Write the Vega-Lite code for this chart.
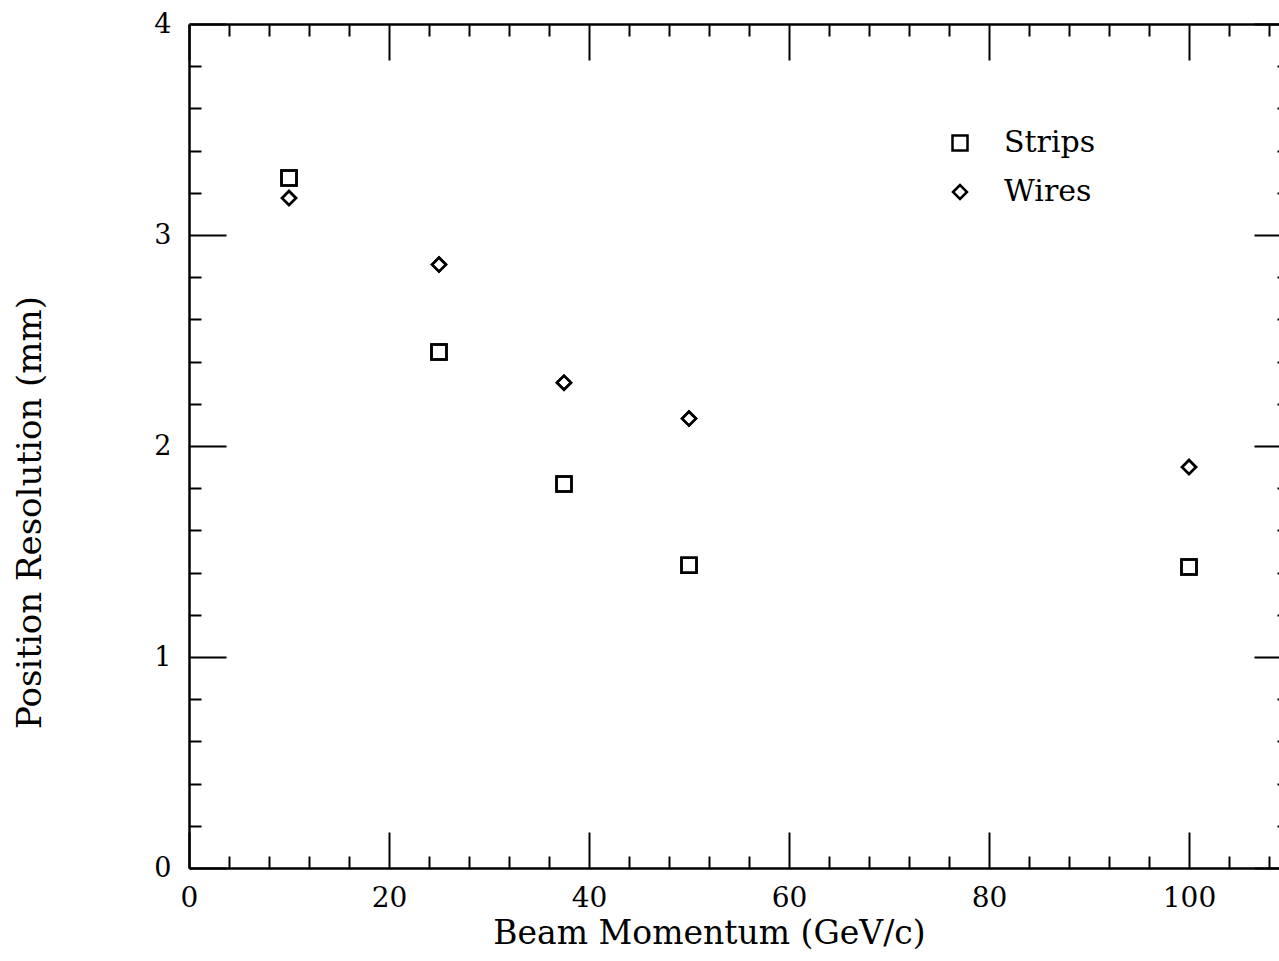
{
  "$schema": "https://vega.github.io/schema/vega-lite/v6.json",
  "width": 1090,
  "height": 844,
  "autosize": {"type": "none"},
  "padding": {"left": 189, "top": 24, "right": 0, "bottom": 93},
  "background": "white",
  "config": {
    "view": {"stroke": null},
    "font": "DejaVu Serif",
    "axis": {
      "grid": false,
      "domainColor": "black",
      "domainWidth": 2.5,
      "tickColor": "black",
      "tickWidth": 2,
      "labelColor": "black",
      "labelFont": "DejaVu Serif",
      "labelOverlap": false,
      "labelFlush": false,
      "titleColor": "black",
      "titleFont": "DejaVu Serif",
      "titleFontWeight": "normal"
    }
  },
  "data": {
    "values": [
      {"p": 10, "res": 3.27, "series": "Strips"},
      {"p": 25, "res": 2.445, "series": "Strips"},
      {"p": 37.5, "res": 1.82, "series": "Strips"},
      {"p": 50, "res": 1.435, "series": "Strips"},
      {"p": 100, "res": 1.427, "series": "Strips"},
      {"p": 10, "res": 3.175, "series": "Wires"},
      {"p": 25, "res": 2.86, "series": "Wires"},
      {"p": 37.5, "res": 2.3, "series": "Wires"},
      {"p": 50, "res": 2.13, "series": "Wires"},
      {"p": 100, "res": 1.9, "series": "Wires"}
    ]
  },
  "layer": [
    {
      "mark": {"type": "point", "filled": false, "color": "black", "strokeWidth": 2.5, "opacity": 1},
      "encoding": {
        "x": {
          "field": "p", "type": "quantitative",
          "scale": {"domain": [0, 109], "nice": false, "zero": false},
          "axis": {
            "orient": "bottom",
            "values": [0,4,8,12,16,20,24,28,32,36,40,44,48,52,56,60,64,68,72,76,80,84,88,92,96,100,104,108],
            "tickSize": {"condition": {"test": "datum.value % 20 === 0", "value": -36}, "value": -12},
            "format": "d",
            "labelExpr": "datum.value % 20 === 0 ? datum.label : ''",
            "labelFontSize": 28,
            "labelPadding": 52,
            "labelBaseline": "top",
            "title": "Beam Momentum (GeV/c)",
            "titleFontSize": 33,
            "titleX": 520,
            "titleY": 75,
            "titleAlign": "center",
            "titleBaseline": "alphabetic"
          }
        },
        "y": {
          "field": "res", "type": "quantitative",
          "scale": {"domain": [0, 4], "nice": false, "zero": false},
          "axis": {
            "orient": "left",
            "values": [0,0.2,0.4,0.6,0.8,1,1.2,1.4,1.6,1.8,2,2.2,2.4,2.6,2.8,3,3.2,3.4,3.6,3.8,4],
            "tickSize": {"condition": {"test": "abs(datum.value - round(datum.value)) < 0.001", "value": -37}, "value": -12},
            "format": ".0f",
            "labelExpr": "abs(datum.value - round(datum.value)) < 0.001 ? datum.label : ''",
            "labelFontSize": 27,
            "labelPadding": 55,
            "labelAlign": "right",
            "labelBaseline": "middle",
            "title": "Position Resolution (mm)",
            "titleFontSize": 34,
            "titleAngle": -90,
            "titleX": -149,
            "titleY": 488,
            "titleAlign": "center",
            "titleBaseline": "alphabetic"
          }
        },
        "shape": {
          "field": "series", "type": "nominal",
          "scale": {"domain": ["Strips", "Wires"], "range": ["square", "diamond"]},
          "legend": {
            "orient": "none",
            "legendX": 756,
            "legendY": 104,
            "title": null,
            "padding": 0,
            "labelFontSize": 30,
            "labelFont": "DejaVu Serif",
            "labelColor": "black",
            "labelOffset": 29,
            "rowPadding": 19,
            "symbolStrokeColor": "black",
            "symbolStrokeWidth": 2.5,
            "symbolFillColor": "transparent"
          }
        },
        "size": {
          "field": "series", "type": "nominal",
          "scale": {"domain": ["Strips", "Wires"], "range": [225, 196]}
        }
      }
    },
    {
      "mark": {"type": "point", "filled": false, "color": "black", "strokeWidth": 2.5, "opacity": 1},
      "encoding": {
        "x": {
          "field": "p", "type": "quantitative",
          "axis": {
            "orient": "top",
            "values": [0,4,8,12,16,20,24,28,32,36,40,44,48,52,56,60,64,68,72,76,80,84,88,92,96,100,104,108],
            "tickSize": {"condition": {"test": "datum.value % 20 === 0", "value": -36}, "value": -12},
            "labels": false,
            "title": null
          }
        },
        "y": {
          "field": "res", "type": "quantitative",
          "axis": {
            "orient": "right",
            "offset": 10,
            "values": [0,0.2,0.4,0.6,0.8,1,1.2,1.4,1.6,1.8,2,2.2,2.4,2.6,2.8,3,3.2,3.4,3.6,3.8,4],
            "tickSize": {"condition": {"test": "abs(datum.value - round(datum.value)) < 0.001", "value": -35}, "value": -12},
            "labels": false,
            "title": null
          }
        },
        "shape": {"field": "series", "type": "nominal"},
        "size": {"field": "series", "type": "nominal"}
      }
    }
  ],
  "resolve": {"axis": {"x": "independent", "y": "independent"}}
}
